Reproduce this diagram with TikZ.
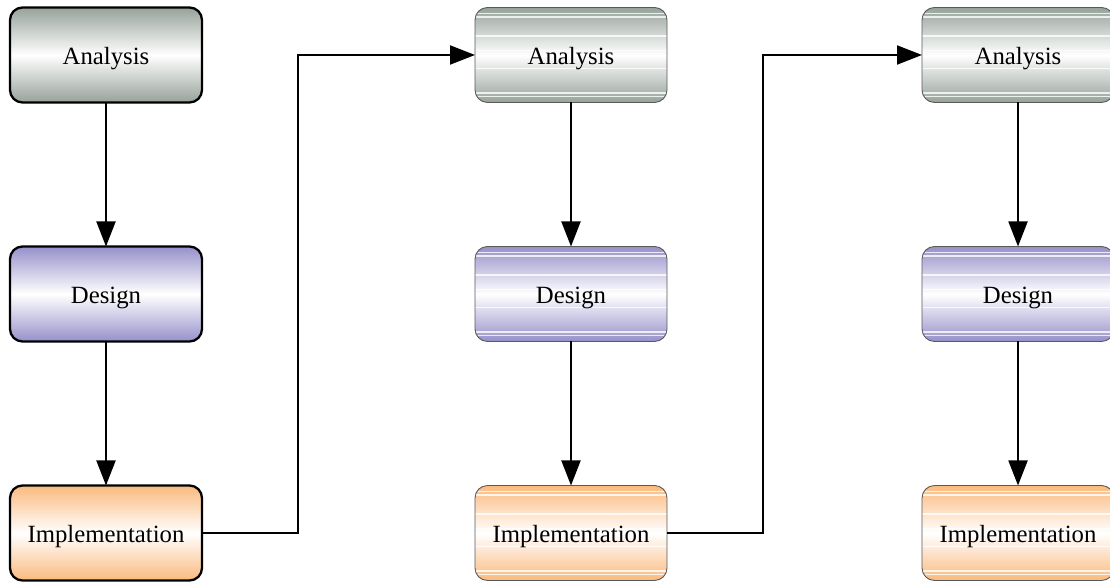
\documentclass[tikz,border=0pt]{standalone}
\usepackage{fontspec}
\setmainfont{Liberation Serif}
\usetikzlibrary{positioning, arrows.meta}
\definecolor{anagray}{RGB}{150,162,154}
\definecolor{despurple}{RGB}{150,144,202}
\definecolor{imporange}{RGB}{250,186,126}
\tikzstyle{phase} = [rectangle, rounded corners=0.25cm, minimum width=3.84cm, minimum height=1.9cm, outer sep=0pt, text centered, text height=12.5pt, text depth=1.3pt, font=\fontsize{14.1}{16}\selectfont, shading=axis]
\tikzstyle{first} = [phase, draw=black, line width=1.3pt]
\tikzstyle{later} = [phase, draw=black!65, line width=0.5pt, path picture={\foreach \f in {0.06,0.1,0.36,0.55,0.7,0.9,0.94} \draw[white, opacity=0.8, line width=0.6pt] (path picture bounding box.south west) ++(0,\f*1.9cm) -- ++(3.9cm,0);}]
\tikzstyle{anabox} = [top color=anagray, bottom color=anagray, middle color=white]
\tikzstyle{desbox} = [top color=despurple, bottom color=despurple, middle color=white]
\tikzstyle{impbox} = [top color=imporange, bottom color=imporange, middle color=white]
\tikzstyle{arrow} = [line width=1.1pt, -{Triangle[length=0.5cm, width=0.38cm]}]
\begin{document}
\begin{tikzpicture} [node distance=2.88cm]
        \useasboundingbox (0,0) rectangle (22.2,11.64);
        % first pass
        \node (ana1) [first, anabox] at (2.12,10.54) {Analysis};
        \node (des1) [first, desbox, below=of ana1] {Design};
        \node (imp1) [first, impbox, below=of des1] {Implementation};
        % second pass
        \node (ana2) [later, anabox] at (11.42,10.54) {Analysis};
        \node (des2) [later, desbox, below=of ana2] {Design};
        \node (imp2) [later, impbox, below=of des2] {Implementation};
        % third pass
        \node (ana3) [later, anabox] at (20.36,10.54) {Analysis};
        \node (des3) [later, desbox, below=of ana3] {Design};
        \node (imp3) [later, impbox, below=of des3] {Implementation};

        \draw[arrow] (ana1) -- (des1);
        \draw[arrow] (des1) -- (imp1);
        \draw[arrow] (imp1.east) -- ++(1.92,0) |- (ana2.west);
        \draw[arrow] (ana2) -- (des2);
        \draw[arrow] (des2) -- (imp2);
        \draw[arrow] (imp2.east) -- ++(1.92,0) |- (ana3.west);
        \draw[arrow] (ana3) -- (des3);
        \draw[arrow] (des3) -- (imp3);
    \end{tikzpicture}
\end{document}
